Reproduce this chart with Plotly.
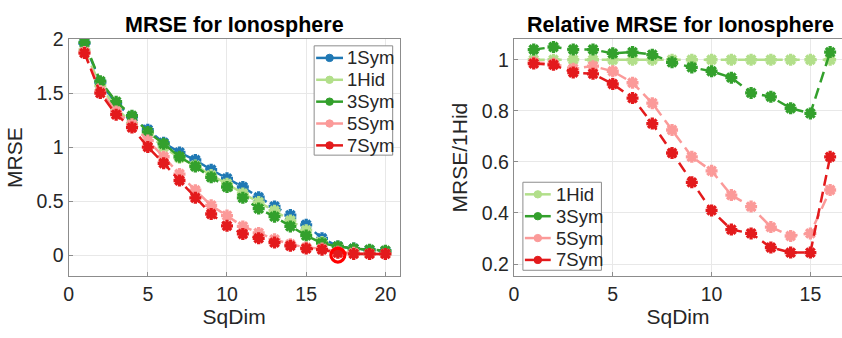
import plotly.graph_objects as go

# Square dimension of the hidden layer
sqdim = list(range(1, 21))
sqdim_rel = list(range(1, 17))

# Mean root squared error per model
mrse_1sym = [1.96, 1.60, 1.40, 1.28, 1.16, 1.04, 0.95, 0.88, 0.79, 0.71,
             0.63, 0.535, 0.45, 0.37, 0.28, 0.155, 0.08, 0.06, 0.045, 0.035]
mrse_1hid = [1.90, 1.57, 1.36, 1.22, 1.12, 1.00, 0.90, 0.83, 0.74, 0.66,
             0.57, 0.49, 0.41, 0.32, 0.23, 0.12, 0.07, 0.03, 0.02, 0.02]
mrse_3sym = [1.97, 1.61, 1.42, 1.29, 1.14, 1.03, 0.91, 0.82, 0.72, 0.63,
             0.53, 0.43, 0.355, 0.265, 0.18, 0.11, 0.08, 0.06, 0.05, 0.04]
mrse_5sym = [1.88, 1.52, 1.33, 1.21, 1.06, 0.91, 0.75, 0.60, 0.46, 0.365,
             0.265, 0.205, 0.145, 0.10, 0.07, 0.06, 0.03, 0.02, 0.01, 0.01]
mrse_7sym = [1.87, 1.50, 1.30, 1.18, 1.00, 0.85, 0.69, 0.53, 0.38, 0.27,
             0.195, 0.155, 0.115, 0.085, 0.06, 0.05, 0.02, 0.01, 0.01, 0.01]

# MRSE relative to the 1Hid model
rel_1hid = [1.0] * 16
rel_3sym = [1.04, 1.05, 1.04, 1.04, 1.025, 1.03, 1.02, 0.99, 0.97, 0.955,
            0.93, 0.87, 0.855, 0.81, 0.79, 1.03]
rel_5sym = [0.99, 0.985, 0.965, 0.975, 0.955, 0.91, 0.83, 0.725, 0.62, 0.565,
            0.47, 0.425, 0.345, 0.31, 0.32, 0.49]
rel_7sym = [0.985, 0.98, 0.95, 0.945, 0.905, 0.85, 0.75, 0.635, 0.52, 0.41,
            0.335, 0.32, 0.265, 0.245, 0.245, 0.62]

# Best model marker
best_x = [17]
best_y = [0.0]

# Legend contents of each panel
legend_left = ["1Sym", "1Hid", "3Sym", "5Sym", "7Sym"]
legend_right = ["1Hid", "3Sym", "5Sym", "7Sym"]

colors = {
    "1Sym": "#1f78b4",
    "1Hid": "#b2df8a",
    "3Sym": "#33a02c",
    "5Sym": "#fb9a99",
    "7Sym": "#e31a1c",
}

FONT = "Liberation Sans, Arial, sans-serif"
TXT = "#262626"
DASH = "11px,6px"
W, H = 842, 338

fig = go.Figure()


def add_series(x, y, name, xa, ya):
    c = colors[name]
    fig.add_trace(go.Scatter(
        x=x, y=y, mode="lines+markers", name=name,
        xaxis=xa, yaxis=ya, showlegend=False,
        line=dict(color=c, width=2.5, dash=DASH),
        marker=dict(symbol="asterisk-open", size=10, color=c,
                    line=dict(color=c, width=3.3)),
    ))


add_series(sqdim, mrse_1sym, "1Sym", "x", "y")
add_series(sqdim, mrse_1hid, "1Hid", "x", "y")
add_series(sqdim, mrse_3sym, "3Sym", "x", "y")
add_series(sqdim, mrse_5sym, "5Sym", "x", "y")
add_series(sqdim, mrse_7sym, "7Sym", "x", "y")

fig.add_trace(go.Scatter(
    x=best_x, y=best_y, mode="markers", showlegend=False,
    xaxis="x", yaxis="y",
    marker=dict(symbol="circle-open", size=14, color="#ff0000",
                line=dict(color="#ff0000", width=3.2)),
))

add_series(sqdim_rel, rel_1hid, "1Hid", "x2", "y2")
add_series(sqdim_rel, rel_3sym, "3Sym", "x2", "y2")
add_series(sqdim_rel, rel_5sym, "5Sym", "x2", "y2")
add_series(sqdim_rel, rel_7sym, "7Sym", "x2", "y2")


# Boxed legends with solid line samples, drawn in pixel positions
def px(x):
    return x / W


def py(y):
    return 1 - y / H


shapes = []
annotations = []


def add_legend(names, box, first_row, row_h, line_x0, line_x1, text_x):
    x0, y0, x1, y1 = box
    shapes.append(dict(type="rect", xref="paper", yref="paper",
                       x0=px(x0), x1=px(x1), y0=py(y0), y1=py(y1),
                       line=dict(color="#8c8c8c", width=1),
                       fillcolor="white", layer="above"))
    for i, name in enumerate(names):
        c = colors[name]
        yc = first_row + i * row_h
        shapes.append(dict(type="line", xref="paper", yref="paper",
                           x0=px(line_x0), x1=px(line_x1),
                           y0=py(yc), y1=py(yc),
                           line=dict(color=c, width=2.5), layer="above"))
        mx = (line_x0 + line_x1) / 2
        r = 3.8
        shapes.append(dict(type="circle", xref="paper", yref="paper",
                           x0=px(mx - r), x1=px(mx + r),
                           y0=py(yc + r), y1=py(yc - r),
                           line=dict(color=c, width=1), fillcolor=c,
                           layer="above"))
        annotations.append(dict(text=name, x=px(text_x), y=py(yc),
                                xref="paper", yref="paper", showarrow=False,
                                xanchor="left", yanchor="middle",
                                font=dict(family=FONT, size=18.5, color=TXT)))


add_legend(legend_left, (311, 36, 390, 149), 48.5, 22.6, 313, 340, 342)
add_legend(legend_right, (521, 177, 600, 268), 189.5, 22.6, 523, 549, 552)

axis_common = dict(
    showgrid=True, gridcolor="#e8e8e8", gridwidth=1,
    showline=True, linecolor="#8c8c8c", linewidth=1.2,
    ticks="inside", ticklen=4, tickcolor="#8c8c8c",
    tickfont=dict(family=FONT, size=19.5, color=TXT),
    zeroline=False,
)

y_dom = [(H - 274) / H, (H - 29) / H]

annotations += [
    dict(text="<b>MRSE for Ionosphere</b>", x=px(231), y=py(14),
         xref="paper", yref="paper", showarrow=False,
         xanchor="center", yanchor="middle",
         font=dict(family=FONT, size=21.5, color="black")),
    dict(text="<b>Relative MRSE for Ionosphere</b>", x=px(680), y=py(14),
         xref="paper", yref="paper", showarrow=False,
         xanchor="center", yanchor="middle",
         font=dict(family=FONT, size=21.5, color="black")),
]

fig.update_layout(
    width=W, height=H,
    margin=dict(l=0, r=0, t=0, b=0),
    paper_bgcolor="white", plot_bgcolor="white",
    font=dict(family=FONT, color=TXT),
    showlegend=False,
    xaxis=dict(axis_common, mirror=True, domain=[px(64), px(397)],
               range=[0, 20.9], tickvals=[0, 5, 10, 15, 20],
               title=dict(text="SqDim", font=dict(size=21), standoff=4),
               anchor="y"),
    yaxis=dict(axis_common, mirror=True, domain=y_dom, range=[-0.195, 2.0],
               tickvals=[0, 0.5, 1, 1.5, 2],
               ticktext=["0", "0.5", "1", "1.5", "2"],
               title=dict(text="MRSE", font=dict(size=21), standoff=8),
               anchor="x"),
    xaxis2=dict(axis_common, mirror=True, domain=[px(512), 1.0],
                range=[0, 16.6], tickvals=[0, 5, 10, 15],
                title=dict(text="SqDim", font=dict(size=21), standoff=4),
                anchor="y2"),
    yaxis2=dict(axis_common, mirror=False, domain=y_dom,
                range=[0.153, 1.081],
                tickvals=[0.2, 0.4, 0.6, 0.8, 1.0],
                ticktext=["0.2", "0.4", "0.6", "0.8", "1"],
                title=dict(text="MRSE/1Hid", font=dict(size=21), standoff=8),
                anchor="x2"),
    shapes=shapes,
    annotations=annotations,
)

fig.write_html("out.html")
